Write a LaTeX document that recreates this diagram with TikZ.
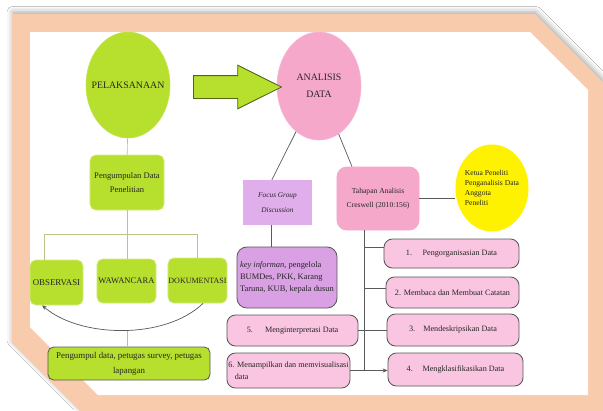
\documentclass[tikz,border=0pt]{standalone}
\usepackage{fontspec}
\setmainfont{Liberation Serif}
\usetikzlibrary{arrows.meta, shapes.geometric, shapes.arrows, positioning,
                shadows.blur}

\definecolor{framepeach}{HTML}{F8CBAD}
\definecolor{limegreen}{HTML}{B7DF2E}
\definecolor{rosepink}{HTML}{F6A8CB}
\definecolor{softpink}{HTML}{F9C5E0}
\definecolor{lilacfill}{HTML}{E0AEEB}
\definecolor{lilacdeep}{HTML}{D9A1E3}
\definecolor{sunyellow}{HTML}{FFF200}
\definecolor{linegray}{HTML}{595959}

\tikzset{
  phaseoval/.style={
    ellipse, inner xsep=-5pt, inner ysep=0pt,
    minimum width=2.1cm, minimum height=2.65cm,
    align=center, font=\fontsize{7}{12}\selectfont,
    fill=#1, draw=#1!85!white
  },
  greenbox/.style={
    rectangle, rounded corners=4pt, inner xsep=0pt, inner ysep=1pt,
    align=center, font=\fontsize{6.1}{10}\selectfont,
    fill=limegreen, draw=limegreen!60!white
  },
  stepbox/.style={
    rectangle, rounded corners=6pt, inner sep=2pt,
    align=center, font=\fontsize{5.8}{8.5}\selectfont,
    fill=#1, draw=linegray, line width=0.6pt
  },
  treeline/.style={draw=limegreen!45!gray!70, line width=0.5pt},
  plainline/.style={draw=linegray, line width=0.5pt},
  flowarrow/.style={-{Stealth[length=3.5pt,width=3pt]}, draw=linegray,
                    line width=0.5pt},
}

\begin{document}
\begin{tikzpicture}[
        x=0.025cm, y=-0.025cm,
        every node/.style={text=black!85},
        lilacbox/.style={
          rectangle, inner sep=1pt, align=center,
          font=\fontsize{5.2}{10.5}\selectfont\itshape, fill=lilacfill
        }
      ]
      \useasboundingbox (0,0) rectangle (603,410);
      \fill[white] (0,0) rectangle (603,410);

      % bingkai
      \fill[framepeach, blur shadow={shadow xshift=0.5pt, shadow yshift=1.5pt,
            shadow blur radius=4pt, shadow opacity=35}]
        (12,14) -- (535,14) -- (620,99) -- (620,430) -- (99,430) -- (12,343) -- cycle;
      \fill[white]
        (30,32) -- (530,32) -- (588,90) -- (588,395) -- (98,395) -- (30,327) -- cycle;

      \node[phaseoval=limegreen] (pel) at (128,85) {PELAKSANAAN};
      \node[phaseoval=rosepink, minimum height=2.7cm] (ana) at (319,86) {ANALISIS\\DATA};
      \node[single arrow, fill=limegreen, draw=limegreen!45!black, line width=0.6pt,
            minimum height=2.2cm, inner xsep=0pt, inner ysep=0.275cm,
            single arrow head extend=0.26cm, single arrow tip angle=53] (go) at (226,87) {};

      \node[greenbox, minimum width=1.85cm, minimum height=1.375cm] (pgd) at (127,182.5)
           {Pengumpulan Data\\Penelitian};
      \node[greenbox, font=\fontsize{6.3}{8}\selectfont, minimum width=1.325cm,
            minimum height=1.125cm] (obs) at (56.5,282.5) {OBSERVASI};
      \node[greenbox, minimum width=1.475cm, minimum height=1.1cm] (waw) at (126.5,281) {WAWANCARA};
      \node[greenbox, font=\fontsize{5.7}{8}\selectfont, minimum width=1.475cm,
            minimum height=1.125cm] (dok) at (197.5,280.5) {DOKUMENTASI};
      \node[greenbox, draw=linegray, line width=0.6pt, font=\fontsize{6.3}{10.5}\selectfont,
            minimum width=4.05cm, minimum height=0.825cm] (pgk) at (129,363.5)
           {Pengumpul data, petugas survey, petugas\\lapangan};

      \node[lilacbox, minimum width=1.725cm, minimum height=1.125cm] (fgd) at (277.5,202.5)
           {Focus Group\\Discussion};
      \node[stepbox=lilacdeep, align=left, rounded corners=7pt, font=\fontsize{6}{8.5}\selectfont,
            minimum width=2.5cm, minimum height=1.525cm] (key) at (287,277.5)
           {\textit{key informan}, pengelola\\BUMDes, PKK, Karang\\Taruna, KUB, kepala dusun};
      \node[stepbox=rosepink, draw=rosepink, rounded corners=7pt, font=\fontsize{5.4}{10}\selectfont,
            minimum width=2.05cm, minimum height=1.575cm] (tah) at (378,198.5)
           {Tahapan Analisis\\Creswell (2010:156)};
      \node[ellipse, fill=sunyellow, inner xsep=-2pt, inner ysep=0pt, align=left,
            font=\fontsize{5.4}{7}\selectfont,
            minimum width=1.825cm, minimum height=2.175cm] (yel) at (492,188)
           {Ketua Peneliti\\Penganalisis Data\\Anggota\\Peneliti};

      \node[stepbox=softpink, minimum width=3.375cm, minimum height=0.725cm] (s1) at (451.5,253.5)
           {1.\hspace{1.3em}Pengorganisasian Data};
      \node[stepbox=softpink, minimum width=3.325cm, minimum height=0.775cm] (s2) at (452.5,292.5)
           {2. Membaca dan Membuat Catatan};
      \node[stepbox=softpink, minimum width=3.3cm, minimum height=0.8cm] (s3) at (453,330)
           {3.\hspace{1em}Mendeskripsikan Data};
      \node[stepbox=softpink, minimum width=3.375cm, minimum height=0.825cm] (s4) at (455.5,369.5)
           {4.\hspace{1.2em}Mengklasifikasikan Data};
      \node[stepbox=softpink, minimum width=3.275cm, minimum height=0.775cm] (s5) at (292.5,330.5)
           {5.\hspace{1.5em}Menginterpretasi Data};
      \node[stepbox=softpink, align=left, inner xsep=1pt, minimum width=3.075cm,
            minimum height=0.875cm] (s6) at (288.5,370.5)
           {6. Menampilkan dan memvisualisasi\\\hspace*{0.8em}data};

      % pelaksanaan
      \draw[treeline] (pel) -- (pgd);
      \coordinate (fork) at (127,234);
      \draw[treeline] (pgd.south) -- (fork);
      \draw[treeline] ([xshift=-0.3cm]obs.north) |- (fork) -| (dok.north);
      \draw[treeline] (fork) -- (fork |- waw.north);
      \draw[flowarrow] ([xshift=0.14cm]dok.south) .. controls (165,340) and (80,338)
            .. ([xshift=-0.36cm]obs.south);
      \coordinate (sag) at (127,331);
      \draw[treeline] (sag) -- (sag |- pgk.north);

      % analisis
      \draw[plainline] (ana) -- ([xshift=-0.14cm]fgd.north);
      \draw[plainline] (ana) -- ([xshift=-0.65cm]tah.north);
      \draw[plainline] ([xshift=-0.16cm]fgd.south) -- ([xshift=-0.16cm]fgd.south |- key.north);
      \draw[plainline] (tah.east) -- (tah.east -| yel.west);
      \coordinate (trunk) at ([xshift=-0.35cm]tah.south);
      \draw[plainline] (trunk) -- (trunk |- s6.east);
      \draw[plainline] ([yshift=0.16cm]s1.west) -| (trunk);
      \draw[plainline] ([yshift=0.11cm]s2.west) -| (trunk);
      \draw[plainline] (s5.east) -- (s5.east -| s3.west);
      \draw[flowarrow] (s6.east) -- (s6.east -| s4.west);
    \end{tikzpicture}
\end{document}
